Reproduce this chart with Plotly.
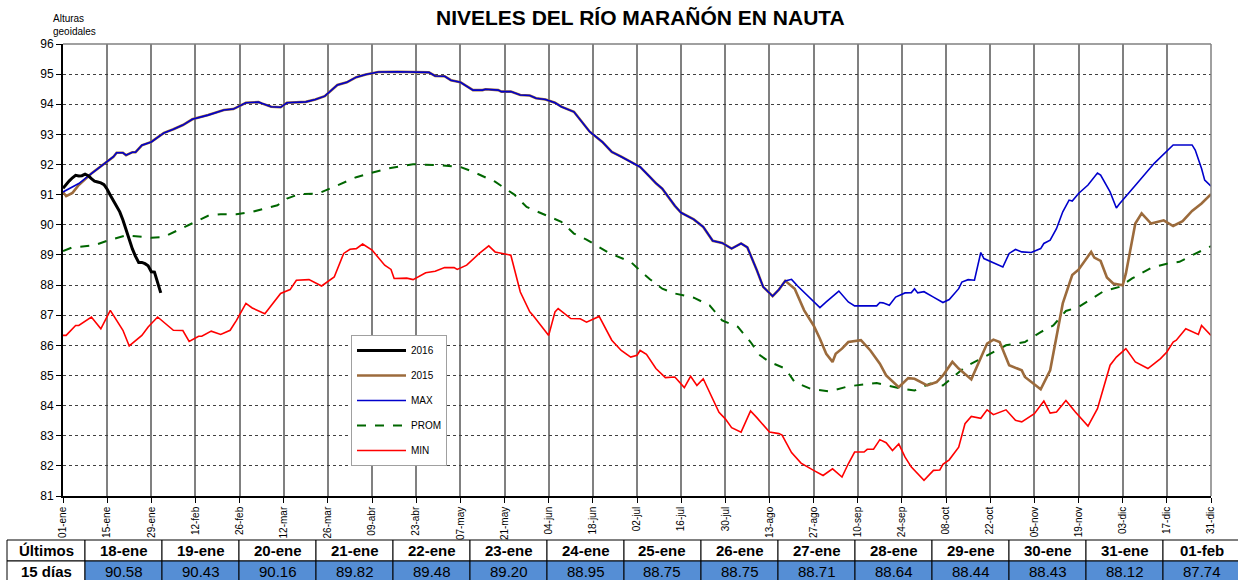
import plotly.graph_objects as go

W, H = 1238, 580

# ---------------- data ----------------
# x = day of year (1 = 01-ene ... 365 = 31-dic)
tick_dias = [1, 15, 29, 43, 57, 71, 85, 99, 113, 127, 141, 155, 169, 183,
             197, 211, 225, 239, 253, 267, 281, 295, 309, 323, 337, 351, 365]
tick_textos = ["01-ene", "15-ene", "29-ene", "12-feb", "26-feb", "12-mar", "26-mar",
               "09-abr", "23-abr", "07-may", "21-may", "04-jun", "18-jun", "02-jul",
               "16-jul", "30-jul", "13-ago", "27-ago", "10-sep", "24-sep", "08-oct",
               "22-oct", "05-nov", "19-nov", "03-dic", "17-dic", "31-dic"]

max_dias = [1, 6, 10, 13, 17, 18, 20, 21, 23, 24, 26, 29, 33, 36, 39, 42, 47, 52, 55, 59,
            63, 64, 67, 70, 72, 78, 81, 84, 88, 91, 94, 97, 101, 107, 110, 117, 119, 122,
            124, 127, 131, 134, 135, 139, 140, 143, 146, 149, 151, 154, 157, 159, 163, 166,
            168, 172, 175, 178, 181, 184, 187, 189, 191, 195, 197, 201, 204, 207, 210, 213,
            216, 218, 221, 223, 226, 228, 230, 232, 234, 238, 241, 243, 247, 250, 252, 259,
            260, 261, 263, 265, 268, 270, 271, 272, 274, 277, 280, 282, 285, 286, 288, 290,
            292, 293, 299, 301, 303, 305, 308, 311, 312, 314, 316, 318, 320, 321, 323, 326,
            329, 330, 333, 335, 336, 342, 347, 353, 359, 360, 362, 363, 365]
max_vals = [91.09, 91.37, 91.70, 91.95, 92.26, 92.39, 92.39, 92.31, 92.41, 92.41, 92.64,
            92.75, 93.05, 93.17, 93.31, 93.50, 93.64, 93.81, 93.84, 94.05, 94.07, 94.03,
            93.92, 93.90, 94.05, 94.08, 94.16, 94.27, 94.64, 94.73, 94.90, 94.99, 95.07,
            95.08, 95.07, 95.06, 94.94, 94.93, 94.80, 94.73, 94.47, 94.47, 94.50, 94.47,
            94.42, 94.42, 94.31, 94.29, 94.20, 94.16, 94.05, 93.92, 93.75, 93.37, 93.09,
            92.75, 92.42, 92.26, 92.09, 91.92, 91.60, 91.38, 91.20, 90.63, 90.40, 90.18,
            89.93, 89.47, 89.40, 89.21, 89.38, 89.25, 88.49, 87.94, 87.63, 87.85, 88.14,
            88.19, 87.96, 87.55, 87.25, 87.44, 87.80, 87.44, 87.31, 87.31, 87.42, 87.41,
            87.33, 87.60, 87.74, 87.75, 87.88, 87.74, 87.78, 87.60, 87.42, 87.52, 87.88,
            88.10, 88.18, 88.16, 89.08, 88.88, 88.60, 89.05, 89.18, 89.10, 89.08, 89.21,
            89.38, 89.49, 89.87, 90.43, 90.82, 90.79, 91.04, 91.32, 91.72, 91.65, 91.09,
            90.56, 90.70, 91.43, 92.04, 92.65, 92.65, 92.48, 91.87, 91.48, 91.28]

prom_dias = [1, 4, 11, 15, 21, 24, 29, 33, 37, 42, 47, 51, 56, 61, 69, 72, 76, 82, 87, 91,
             94, 98, 104, 112, 120, 127, 131, 138, 144, 148, 154, 159, 163, 167, 174, 181,
             185, 187, 191, 195, 201, 206, 210, 215, 219, 222, 225, 230, 233, 238, 244, 250,
             259, 266, 271, 276, 280, 287, 291, 295, 300, 306, 311, 315, 319, 323, 327, 331,
             336, 340, 346, 351, 355, 359, 365]
prom_vals = [89.13, 89.25, 89.32, 89.47, 89.65, 89.62, 89.57, 89.60, 89.80, 90.04, 90.30,
             90.35, 90.35, 90.43, 90.65, 90.87, 91.02, 91.04, 91.26, 91.46, 91.58, 91.70,
             91.87, 92.01, 91.98, 91.92, 91.76, 91.43, 91.01, 90.59, 90.32, 90.10, 89.71,
             89.51, 89.07, 88.77, 88.38, 88.20, 87.88, 87.72, 87.58, 87.33, 86.83, 86.61,
             86.11, 85.67, 85.45, 85.23, 84.78, 84.56, 84.47, 84.64, 84.75, 84.58, 84.50,
             84.73, 84.67, 85.28, 85.50, 85.72, 86.00, 86.11, 86.44, 86.66, 87.14, 87.27,
             87.55, 87.80, 87.94, 88.22, 88.57, 88.71, 88.77, 88.99, 89.29]

min_dias = [1, 2, 5, 6, 10, 13, 16, 20, 22, 26, 28, 31, 36, 39, 41, 44, 45, 48, 51, 54, 56,
            59, 61, 65, 70, 73, 75, 79, 83, 87, 90, 92, 94, 96, 99, 103, 105, 106, 110, 112,
            116, 119, 122, 125, 126, 129, 133, 136, 138, 143, 146, 149, 150, 152, 155, 157,
            158, 162, 165, 167, 171, 175, 178, 181, 183, 184, 186, 189, 192, 195, 198, 200,
            202, 204, 209, 211, 213, 216, 219, 221, 225, 228, 229, 232, 235, 239, 242, 245,
            248, 250, 252, 255, 256, 258, 260, 262, 264, 266, 268, 270, 274, 277, 279, 280,
            282, 285, 287, 289, 292, 294, 296, 300, 303, 305, 308, 309, 312, 314, 316, 319,
            322, 326, 329, 333, 335, 338, 341, 345, 349, 351, 353, 354, 357, 361, 362, 365]
min_vals = [86.33, 86.33, 86.66, 86.66, 86.94, 86.55, 87.16, 86.50, 85.98, 86.33, 86.61,
            86.94, 86.50, 86.49, 86.13, 86.30, 86.30, 86.47, 86.36, 86.50, 86.83, 87.39,
            87.24, 87.05, 87.72, 87.85, 88.16, 88.18, 87.97, 88.27, 89.05, 89.19, 89.21,
            89.36, 89.16, 88.66, 88.52, 88.22, 88.23, 88.18, 88.41, 88.46, 88.58, 88.58,
            88.52, 88.66, 89.05, 89.30, 89.10, 88.99, 87.77, 87.11, 87.00, 86.72, 86.33,
            87.11, 87.22, 86.89, 86.88, 86.77, 86.96, 86.17, 85.83, 85.61, 85.67, 85.83,
            85.70, 85.23, 84.93, 84.95, 84.60, 84.97, 84.67, 84.89, 83.78, 83.56, 83.27,
            83.12, 83.82, 83.60, 83.12, 83.07, 83.02, 82.44, 82.09, 81.85, 81.68, 81.90,
            81.63, 82.07, 82.46, 82.46, 82.55, 82.55, 82.87, 82.77, 82.51, 82.73, 82.29,
            81.96, 81.52, 81.85, 81.86, 82.05, 82.20, 82.62, 83.40, 83.64, 83.58, 83.86,
            83.70, 83.86, 83.51, 83.46, 83.68, 83.73, 84.15, 83.75, 83.79, 84.17, 83.79,
            83.32, 83.90, 85.34, 85.61, 85.89, 85.45, 85.23, 85.56, 85.78, 86.11, 86.17,
            86.55, 86.36, 86.66, 86.33]

# 2015: start, then it coincides with the MAX record (days 10-230), then its own end
a2015_ini_dias = [1, 2, 4, 6]
a2015_ini_vals = [91.09, 90.95, 91.06, 91.32]
a2015_fin_dias = [233, 236, 239, 241, 243, 245, 246, 248, 250, 254, 257, 260, 262, 266, 269,
                  271, 275, 278, 280, 283, 285, 289, 291, 294, 296, 298, 301, 305, 306, 311,
                  314, 316, 318, 321, 323, 327, 328, 330, 332, 334, 337, 338, 341, 343, 346,
                  350, 353, 356, 359, 362, 365]
a2015_fin_vals = [87.88, 87.16, 86.66, 86.22, 85.72, 85.45, 85.72, 85.89, 86.11, 86.17, 85.83,
                  85.39, 85.00, 84.61, 84.91, 84.89, 84.67, 84.78, 85.00, 85.45, 85.23, 84.87,
                  85.34, 86.06, 86.19, 86.11, 85.34, 85.17, 84.95, 84.54, 85.17, 86.28, 87.39,
                  88.33, 88.51, 89.10, 88.91, 88.80, 88.25, 88.05, 87.99, 88.38, 90.04, 90.38,
                  90.04, 90.15, 89.96, 90.12, 90.46, 90.71, 91.02]

# 2016: first days, last 15 days from the table
a2016_ini_dias = list(range(1, 18))
a2016_ini_vals = [91.21, 91.35, 91.46, 91.56, 91.64, 91.62, 91.63, 91.68, 91.63, 91.53,
                  91.45, 91.42, 91.39, 91.33, 91.18, 90.98, 90.78]
ultimos_dias = list(range(18, 33))
ultimos_fechas = ["18-ene", "19-ene", "20-ene", "21-ene", "22-ene", "23-ene", "24-ene",
                  "25-ene", "26-ene", "27-ene", "28-ene", "29-ene", "30-ene", "31-ene", "01-feb"]
ultimos_valores = [90.58, 90.43, 90.16, 89.82, 89.48, 89.20, 88.95, 88.75, 88.75, 88.71,
                   88.64, 88.44, 88.43, 88.12, 87.74]

# ---------------- build ----------------
ov = [(d, v) for d, v in zip(max_dias, max_vals) if 10 <= d <= 230]
x2015 = a2015_ini_dias + [d for d, _ in ov] + a2015_fin_dias
y2015 = a2015_ini_vals + [v for _, v in ov] + a2015_fin_vals
x2016 = a2016_ini_dias + ultimos_dias
y2016 = a2016_ini_vals + ultimos_valores

FONT = "Liberation Sans, Arial, sans-serif"
NARROW = "Liberation Sans Narrow, Arial Narrow, Liberation Sans, Arial, sans-serif"

fig = go.Figure()
fig.add_trace(go.Scatter(x=min_dias, y=min_vals, mode="lines", name="MIN",
                         line=dict(color="#FF0000", width=1.6), legendrank=5,
                         legendgroup="e"))
fig.add_trace(go.Scatter(x=prom_dias, y=prom_vals, mode="lines", name="PROM",
                         line=dict(color="#006600", width=2, dash="dash"), legendrank=4,
                         legendgroup="d"))
fig.add_trace(go.Scatter(x=x2015, y=y2015, mode="lines", name="2015",
                         line=dict(color="#9C6B3C", width=2.6), legendrank=2,
                         legendgroup="b"))
fig.add_trace(go.Scatter(x=max_dias, y=max_vals, mode="lines", name="MAX",
                         line=dict(color="#0000CC", width=1.6), legendrank=3,
                         legendgroup="c"))
fig.add_trace(go.Scatter(x=x2016, y=y2016, mode="lines", name="2016",
                         line=dict(color="#000000", width=3), legendrank=1,
                         legendgroup="a"))

x0d, x1d = 63 / W, 1211 / W
y0d, y1d = 1 - 496 / H, 1 - 44 / H

# ---------------- table of the last 15 days (shapes + text) ----------------
col_bordes = [7, 85]
for _ in ultimos_fechas:
    col_bordes.append(col_bordes[-1] + 77)
fila_bordes = [540, 561, 582]
encabezados = ["<b>Últimos</b>"] + ["<b>%s</b>" % f for f in ultimos_fechas]
valores_txt = ["<b>15 días</b>"] + ["%.2f" % v for v in ultimos_valores]

shapes = [
    dict(type="line", xref="paper", yref="paper", x0=x0d, x1=x1d, y0=y1d, y1=y1d,
         line=dict(color="#808080", width=1.5)),
    dict(type="line", xref="paper", yref="paper", x0=x1d, x1=x1d, y0=y0d, y1=y1d,
         line=dict(color="#808080", width=1.5)),
]
annotations = [
    dict(text="<b>NIVELES DEL RÍO MARAÑÓN EN NAUTA</b>", xref="paper", yref="paper",
         x=640 / W, y=1 - 17 / H, xanchor="center", yanchor="middle",
         showarrow=False, font=dict(family=FONT, size=21, color="black")),
    dict(text="Alturas<br>geoidales", xref="paper", yref="paper",
         x=51 / W, y=1 - 25 / H, xanchor="left", yanchor="middle", align="left",
         showarrow=False, font=dict(family=FONT, size=10, color="black")),
]
for i in range(len(encabezados)):
    xa, xb = col_bordes[i], col_bordes[i + 1]
    for r, (txt, fill) in enumerate([(encabezados[i], "white"),
                                     (valores_txt[i], "white" if i == 0 else "#558ED5")]):
        ya, yb = fila_bordes[r], fila_bordes[r + 1]
        shapes.append(dict(type="rect", xref="paper", yref="paper",
                           x0=xa / W, x1=xb / W, y0=1 - yb / H, y1=1 - ya / H,
                           fillcolor=fill, line=dict(color="black", width=1), layer="below"))
        annotations.append(dict(text=txt, xref="paper", yref="paper",
                                x=(xa + xb) / 2 / W, y=1 - (ya + 10.5) / H,
                                xanchor="center", yanchor="middle", showarrow=False,
                                font=dict(family=NARROW, size=15, color="black")))

fig.update_layout(
    width=W, height=H,
    margin=dict(l=0, r=0, t=0, b=0, pad=0, autoexpand=False),
    paper_bgcolor="white", plot_bgcolor="white",
    font=dict(family=FONT, color="black"),
    showlegend=True,
    legend=dict(x=351 / W, y=1 - 335 / H, xanchor="left", yanchor="top",
                bgcolor="white", bordercolor="#A0A0A0", borderwidth=1,
                font=dict(family=FONT, size=10), tracegroupgap=6,
                traceorder="grouped", itemwidth=49),
    xaxis=dict(domain=[x0d, x1d], range=[1, 365], tickmode="array",
               tickvals=tick_dias, ticktext=tick_textos, tickangle=-90,
               tickfont=dict(family=FONT, size=10), ticks="outside", ticklen=5,
               tickcolor="black", showline=True, linecolor="black", linewidth=1.5,
               showgrid=True, gridcolor="#808080", gridwidth=1.5, zeroline=False,
               fixedrange=True, automargin=False),
    yaxis=dict(domain=[y0d, y1d], range=[81, 96], dtick=1, tick0=81,
               tickfont=dict(family=FONT, size=12), ticks="outside", ticklen=5,
               tickcolor="black", showline=True, linecolor="black", linewidth=2,
               showgrid=True, gridcolor="#404040", gridwidth=1, griddash="dot",
               zeroline=False, fixedrange=True, automargin=False),
    shapes=shapes,
    annotations=annotations,
)

fig.write_html("out.html", config={"displayModeBar": False},
               post_script="document.body.style.margin='0';document.body.style.padding='0';")
